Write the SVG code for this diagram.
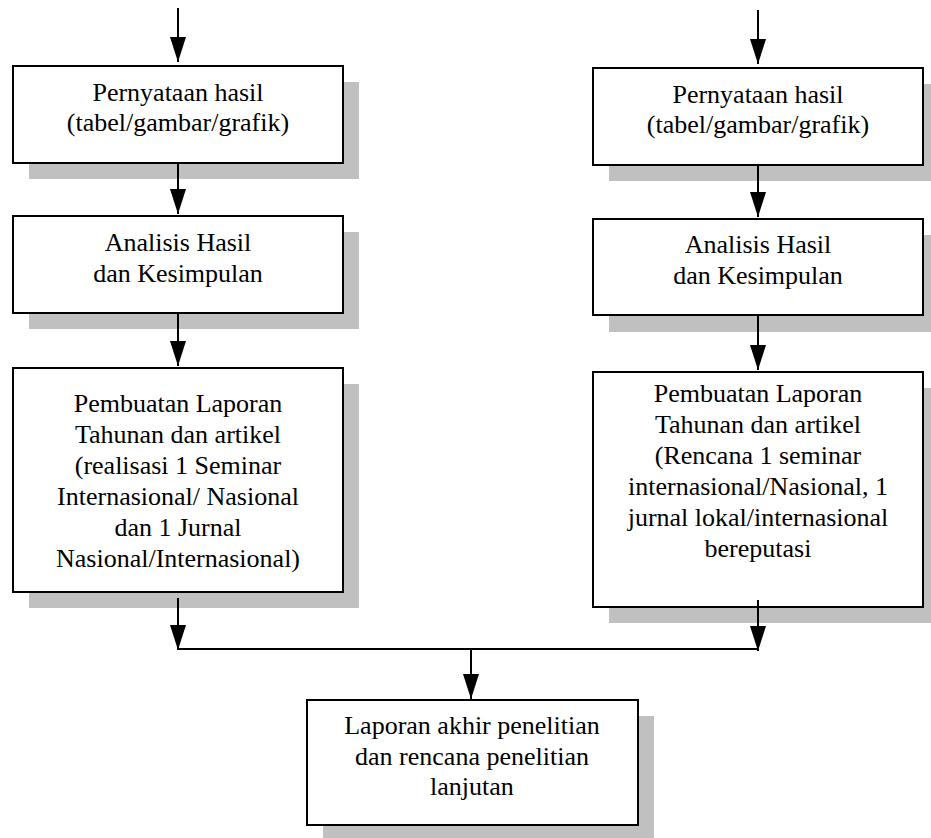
<svg xmlns="http://www.w3.org/2000/svg" width="931" height="838" viewBox="0 0 931 838">
<style>
.shadow{fill:#c0c0c0;stroke:none}
.box{fill:#ffffff;stroke:#000000;stroke-width:2}
.lbl{font-family:"Liberation Serif","Times New Roman",serif;font-size:26px;fill:#000000;text-anchor:middle}
.conn{fill:none;stroke:#000000;stroke-width:2}
</style>
<defs>
<marker id="arr" markerUnits="userSpaceOnUse" markerWidth="26" markerHeight="18" refX="25" refY="8" orient="auto">
<path d="M0,0 L25,8 L0,16 Z" fill="#000000"/>
</marker>
</defs>
<rect width="931" height="838" fill="#ffffff"/>
<g id="L1">
<rect class="shadow" x="29" y="82" width="330" height="97"/>
<rect class="box" x="13" y="66" width="330" height="97"/>
<text class="lbl" x="178" y="101">Pernyataan hasil</text>
<text class="lbl" x="178" y="131">(tabel/gambar/grafik)</text>
</g>
<g id="L2">
<rect class="shadow" x="29" y="232" width="330" height="97"/>
<rect class="box" x="13" y="216" width="330" height="97"/>
<text class="lbl" x="178" y="251">Analisis Hasil</text>
<text class="lbl" x="178" y="282">dan Kesimpulan</text>
</g>
<g id="L3">
<rect class="shadow" x="29" y="384" width="330" height="224"/>
<rect class="box" x="13" y="368" width="330" height="224"/>
<text class="lbl" x="178" y="412">Pembuatan Laporan</text>
<text class="lbl" x="178" y="443">Tahunan dan artikel</text>
<text class="lbl" x="178" y="474">(realisasi 1 Seminar</text>
<text class="lbl" x="178" y="505">Internasional/ Nasional</text>
<text class="lbl" x="178" y="536">dan 1 Jurnal</text>
<text class="lbl" x="178" y="567">Nasional/Internasional)</text>
</g>
<g id="R1">
<rect class="shadow" x="609" y="84" width="330" height="97"/>
<rect class="box" x="593" y="68" width="330" height="97"/>
<text class="lbl" x="758" y="103">Pernyataan hasil</text>
<text class="lbl" x="758" y="133">(tabel/gambar/grafik)</text>
</g>
<g id="R2">
<rect class="shadow" x="609" y="235" width="330" height="97"/>
<rect class="box" x="593" y="219" width="330" height="96"/>
<text class="lbl" x="758" y="253">Analisis Hasil</text>
<text class="lbl" x="758" y="284">dan Kesimpulan</text>
</g>
<g id="R3">
<rect class="shadow" x="609" y="388" width="330" height="235"/>
<rect class="box" x="593" y="372" width="330" height="235"/>
<text class="lbl" x="758" y="402">Pembuatan Laporan</text>
<text class="lbl" x="758" y="433">Tahunan dan artikel</text>
<text class="lbl" x="758" y="464">(Rencana 1 seminar</text>
<text class="lbl" x="758" y="495">internasional/Nasional, 1</text>
<text class="lbl" x="758" y="526">jurnal lokal/internasional</text>
<text class="lbl" x="758" y="557">bereputasi</text>
</g>
<g id="B">
<rect class="shadow" x="323" y="716" width="331" height="125"/>
<rect class="box" x="307" y="700" width="331" height="125"/>
<text class="lbl" x="472" y="734">Laporan akhir penelitian</text>
<text class="lbl" x="472" y="765">dan rencana penelitian</text>
<text class="lbl" x="472" y="795">lanjutan</text>
</g>
<g id="connectors">
<line class="conn" x1="178" y1="8" x2="178" y2="62" marker-end="url(#arr)"/>
<line class="conn" x1="178" y1="163" x2="178" y2="214" marker-end="url(#arr)"/>
<line class="conn" x1="178" y1="313" x2="178" y2="366" marker-end="url(#arr)"/>
<line class="conn" x1="758" y1="10" x2="758" y2="64" marker-end="url(#arr)"/>
<line class="conn" x1="758" y1="165" x2="758" y2="217" marker-end="url(#arr)"/>
<line class="conn" x1="758" y1="315" x2="758" y2="370" marker-end="url(#arr)"/>
<line class="conn" x1="178" y1="598" x2="178" y2="650" marker-end="url(#arr)"/>
<line class="conn" x1="758" y1="600" x2="758" y2="651" marker-end="url(#arr)"/>
<line class="conn" x1="177" y1="649" x2="759" y2="649"/>
<line class="conn" x1="471" y1="649" x2="471" y2="699" marker-end="url(#arr)"/>
</g>
</svg>
